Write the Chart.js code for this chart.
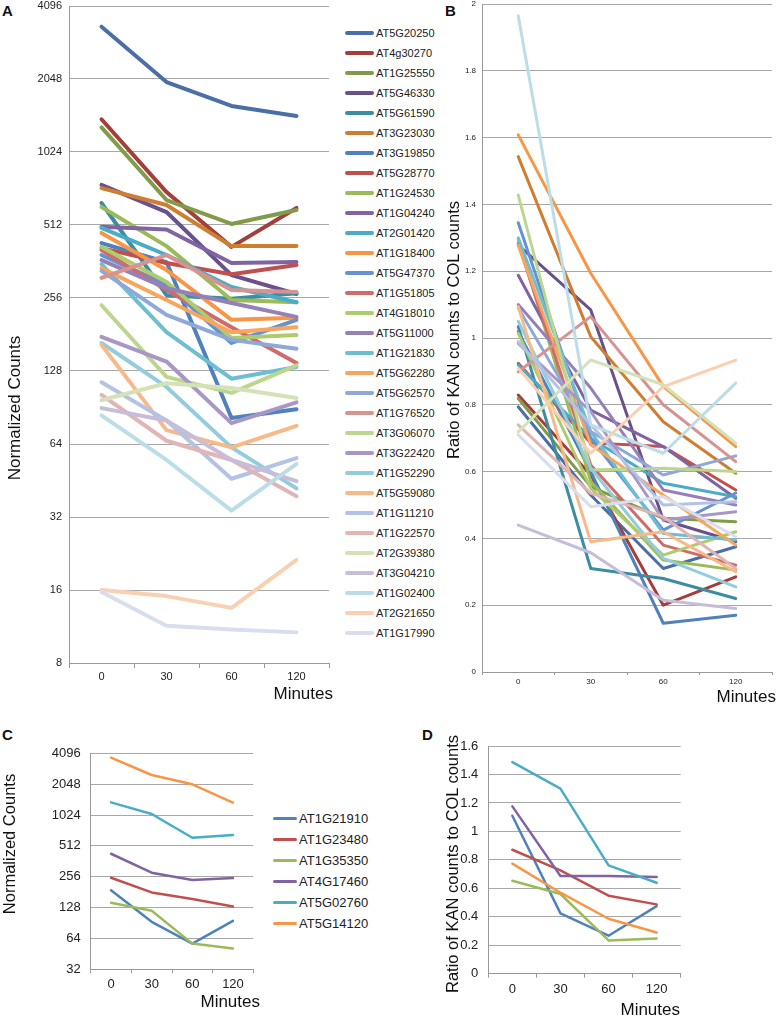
<!DOCTYPE html>
<html lang="en">
<head>
<meta charset="UTF-8">
<title>KAN / COL counts</title>
<script src="https://cdn.jsdelivr.net/npm/chart.js"></script>
<style>
  body { margin: 0; background: #fff; font-family: "Liberation Sans", Arial, sans-serif; color: #111; }
  #page { position: relative; width: 781px; height: 1017px; overflow: hidden; }
  .box { position: absolute; }
  .tag { position: absolute; font-weight: bold; font-size: 15px; line-height: 1; }
  .ytitle { position: absolute; white-space: nowrap; transform: translate(-50%, -50%) rotate(-90deg); }
  .xtitle { position: absolute; white-space: nowrap; transform: translate(-100%, -50%); }
  .leg { position: absolute; display: flex; align-items: center; white-space: nowrap; color: #222; }
  .leg span.sw { display: inline-block; border-radius: 2px; }
</style>
</head>
<body>
<div id="page">
  <div class="tag" style="left:2px;top:3px">A</div>
  <div class="tag" style="left:445px;top:3px">B</div>
  <div class="tag" style="left:2px;top:727px">C</div>
  <div class="tag" style="left:422px;top:727px">D</div>

  <div class="box" style="left:0;top:0"><canvas id="chartA" width="340" height="700"></canvas></div>
  <div class="box" style="left:440px;top:0"><canvas id="chartB" width="341" height="700"></canvas></div>
  <div class="box" style="left:0;top:720px"><canvas id="chartC" width="270" height="290"></canvas></div>
  <div class="box" style="left:440px;top:720px"><canvas id="chartD" width="260" height="290"></canvas></div>

  <div class="ytitle" style="left:15px;top:408px;font-size:17px">Normalized Counts</div>
  <div class="xtitle" style="left:333px;top:694px;font-size:17px">Minutes</div>
  <div class="ytitle" style="left:453px;top:330px;font-size:16.5px">Ratio of KAN counts to COL counts</div>
  <div class="xtitle" style="left:776px;top:697px;font-size:17px">Minutes</div>
  <div class="ytitle" style="left:9px;top:844px;font-size:16.5px">Normalized Counts</div>
  <div class="xtitle" style="left:260px;top:1002px;font-size:17px">Minutes</div>
  <div class="ytitle" style="left:452px;top:864px;font-size:16.5px">Ratio of KAN counts to COL counts</div>
  <div class="xtitle" style="left:680px;top:1010px;font-size:17px">Minutes</div>

  <div id="legA"></div>
  <div id="legC"></div>
</div>

<script>
  const FONT = '"Liberation Sans", Arial, sans-serif';
  const minutes = ['0', '30', '60', '120'];

  // panels A and B: 31 genes
  const genesA = ['AT5G20250', 'AT4g30270', 'AT1G25550', 'AT5G46330', 'AT5G61590', 'AT3G23030',
    'AT3G19850', 'AT5G28770', 'AT1G24530', 'AT1G04240', 'AT2G01420', 'AT1G18400',
    'AT5G47370', 'AT1G51805', 'AT4G18010', 'AT5G11000', 'AT1G21830', 'AT5G62280',
    'AT5G62570', 'AT1G76520', 'AT3G06070', 'AT3G22420', 'AT1G52290', 'AT5G59080',
    'AT1G11210', 'AT1G22570', 'AT2G39380', 'AT3G04210', 'AT1G02400', 'AT2G21650', 'AT1G17990'];

  const countsA = [
    [3365, 1990, 1585, 1441], [1397, 700, 416, 602], [1294, 649, 517, 590], [749, 579, 318, 266],
    [631, 263, 254, 268], [727, 619, 419, 419], [431, 360, 82, 89], [411, 357, 321, 350],
    [607, 419, 251, 246], [504, 491, 357, 360], [498, 385, 284, 246], [475, 334, 208, 212],
    [385, 290, 167, 208], [404, 276, 194, 138], [416, 298, 175, 180], [367, 281, 244, 214],
    [353, 185, 119, 133], [340, 251, 185, 194], [331, 218, 172, 158], [310, 385, 276, 271],
    [239, 121, 104, 135], [177, 140, 78, 95], [167, 110, 62, 42], [164, 73, 62, 76],
    [115, 80, 46, 56], [102, 66, 55, 39], [97, 114, 109, 99], [90, 80, 55, 45],
    [84, 55, 34, 53], [16, 15.1, 13.5, 21.3], [15.7, 11.4, 11.0, 10.7]
  ];

  const ratiosB = [
    [0.794, 0.53, 0.31, 0.375], [0.829, 0.59, 0.2, 0.285], [0.819, 0.555, 0.46, 0.45], [1.278, 1.084, 0.455, 0.39],
    [1.034, 0.31, 0.28, 0.22], [1.543, 1.004, 0.749, 0.595], [1.019, 0.6, 0.146, 0.17], [0.924, 0.686, 0.675, 0.545],
    [1.295, 0.57, 0.335, 0.305], [1.188, 0.784, 0.675, 0.52], [0.919, 0.7, 0.565, 0.525], [1.608, 1.194, 0.855, 0.675],
    [1.345, 0.7, 0.425, 0.536], [1.283, 0.62, 0.38, 0.32], [1.014, 0.55, 0.35, 0.42], [1.10, 0.85, 0.545, 0.50],
    [1.30, 0.72, 0.415, 0.395], [1.277, 0.68, 0.53, 0.38], [1.09, 0.72, 0.59, 0.647], [0.899, 1.064, 0.8, 0.63],
    [1.428, 0.605, 0.61, 0.6], [0.984, 0.78, 0.455, 0.48], [1.05, 0.61, 0.34, 0.255], [1.094, 0.39, 0.42, 0.30],
    [0.989, 0.74, 0.5, 0.51], [0.74, 0.535, 0.465, 0.31], [0.719, 0.934, 0.86, 0.685], [0.44, 0.357, 0.215, 0.19],
    [1.965, 0.74, 0.655, 0.865], [0.909, 0.655, 0.854, 0.934], [0.71, 0.495, 0.525, 0.405]
  ];

  // panels C and D: 6 genes
  const genesC = ['AT1G21910', 'AT1G23480', 'AT1G35350', 'AT4G17460', 'AT5G02760', 'AT5G14120'];
  const countsC = [
    [189, 93, 57, 95], [250, 180, 155, 131], [143, 119, 57, 51],
    [429, 280, 238, 249], [1360, 1047, 615, 654], [3710, 2515, 2041, 1350]
  ];
  const ratiosD = [
    [1.11, 0.424, 0.267, 0.475], [0.871, 0.726, 0.548, 0.487], [0.653, 0.56, 0.234, 0.248],
    [1.176, 0.687, 0.687, 0.679], [1.487, 1.30, 0.761, 0.639], [0.773, 0.569, 0.386, 0.29]
  ];

  const ticksA = [8, 16, 32, 64, 128, 256, 512, 1024, 2048, 4096];
  const ticksB = [0, 0.2, 0.4, 0.6, 0.8, 1, 1.2, 1.4, 1.6, 1.8, 2];
  const ticksC = [32, 64, 128, 256, 512, 1024, 2048, 4096];
  const ticksD = [0, 0.2, 0.4, 0.6, 0.8, 1, 1.2, 1.4, 1.6];

  const colorsA = ['#4A6EA6', '#A33E3A', '#819B48', '#69518B', '#3D8DA2', '#CE7E31',
    '#4F81BD', '#C0504D', '#9BBB59', '#8064A2', '#4BACC6', '#F79646',
    '#6592D1', '#CF6B68', '#AECB6E', '#9680B8', '#6DBED3', '#F8A55E',
    '#8FA8D8', '#D69391', '#BDD68F', '#A897C4', '#93CCDD', '#F9B887',
    '#B3C3E5', '#E0B5B4', '#D4E2B7', '#C7BDD9', '#BCDDE8', '#FAD0B2', '#D8DEEE'];
  const colorsC = ['#4F81BD', '#C0504D', '#9BBB59', '#8064A2', '#4BACC6', '#F79646'];

  function panel(id, genes, rows, colors, c) {
    return new Chart(document.getElementById(id), {
      type: 'line',
      data: {
        labels: minutes,
        datasets: genes.map((g, i) => ({
          label: g, data: rows[i], borderColor: colors[i], borderWidth: c.lw,
          pointRadius: 0, tension: 0, fill: false, order: genes.length - i,
          borderJoinStyle: 'round', borderCapStyle: 'round'
        }))
      },
      options: {
        responsive: false, animation: false, events: [],
        layout: { padding: c.pad },
        plugins: { legend: { display: false }, tooltip: { enabled: false } },
        scales: {
          x: {
            offset: true,
            grid: { offset: true, drawOnChartArea: false, drawTicks: true, tickLength: c.tl, color: '#999' },
            border: { color: '#999' },
            ticks: { padding: c.xpad, maxRotation: 0, color: '#222', font: { size: c.fs, family: FONT } },
            afterFit: s => { s.height = c.xh; s.paddingLeft = 0; s.paddingRight = 0; }
          },
          y: {
            type: c.log ? 'logarithmic' : 'linear', min: c.ticks[0], max: c.ticks[c.ticks.length - 1],
            grid: { color: '#a8a8a8', drawTicks: false },
            border: { color: '#999' },
            ticks: { padding: c.ypad, color: '#222', font: { size: c.fs, family: FONT }, callback: v => String(v) },
            afterBuildTicks: s => { s.ticks = c.ticks.map(v => ({ value: v })); },
            afterFit: s => { s.width = c.yw; s.paddingTop = 0; s.paddingBottom = 0; }
          }
        }
      }
    });
  }

  panel('chartA', genesA, countsA, colorsA, {
    log: true, ticks: ticksA, lw: 4, fs: 11, tl: 5, xpad: 2, ypad: 7, yw: 69, xh: 22,
    pad: { left: 0, right: 11, top: 6, bottom: 15 }
  });
  panel('chartB', genesA, ratiosB, colorsA, {
    log: false, ticks: ticksB, lw: 3, fs: 8, tl: 3, xpad: 2, ypad: 6, yw: 42, xh: 20,
    pad: { left: 0, right: 9, top: 4, bottom: 8 }
  });
  panel('chartC', genesC, countsC, colorsC, {
    log: true, ticks: ticksC, lw: 2.5, fs: 13, tl: 4, xpad: 3, ypad: 10, yw: 90.7, xh: 25,
    pad: { left: 0, right: 16.7, top: 33.3, bottom: 15.7 }
  });
  panel('chartD', genesC, ratiosD, colorsC, {
    log: false, ticks: ticksD, lw: 2.5, fs: 13, tl: 4, xpad: 4, ypad: 10, yw: 48.3, xh: 25,
    pad: { left: 0, right: 19.3, top: 26, bottom: 11.3 }
  });

  // html legends built from the gene and colour lists
  function legend(el, genes, colors, x, y0, step, sw, sh, fs) {
    const box = document.getElementById(el);
    genes.forEach((g, i) => {
      const row = document.createElement('div');
      row.className = 'leg';
      row.style.left = x + 'px';
      row.style.top = (y0 + step * i - 8) + 'px';
      row.style.height = '16px';
      row.style.fontSize = fs + 'px';
      row.innerHTML = '<span class="sw" style="width:' + sw + 'px;height:' + sh + 'px;background:' + colors[i] + '"></span>' +
        '<span style="margin-left:2px">' + g + '</span>';
      box.appendChild(row);
    });
  }
  legend('legA', genesA, colorsA, 345, 33, 20, 29, 4, 11);
  legend('legC', genesC, colorsC, 273, 818.3, 21, 24, 3, 13);
</script>
</body>
</html>
